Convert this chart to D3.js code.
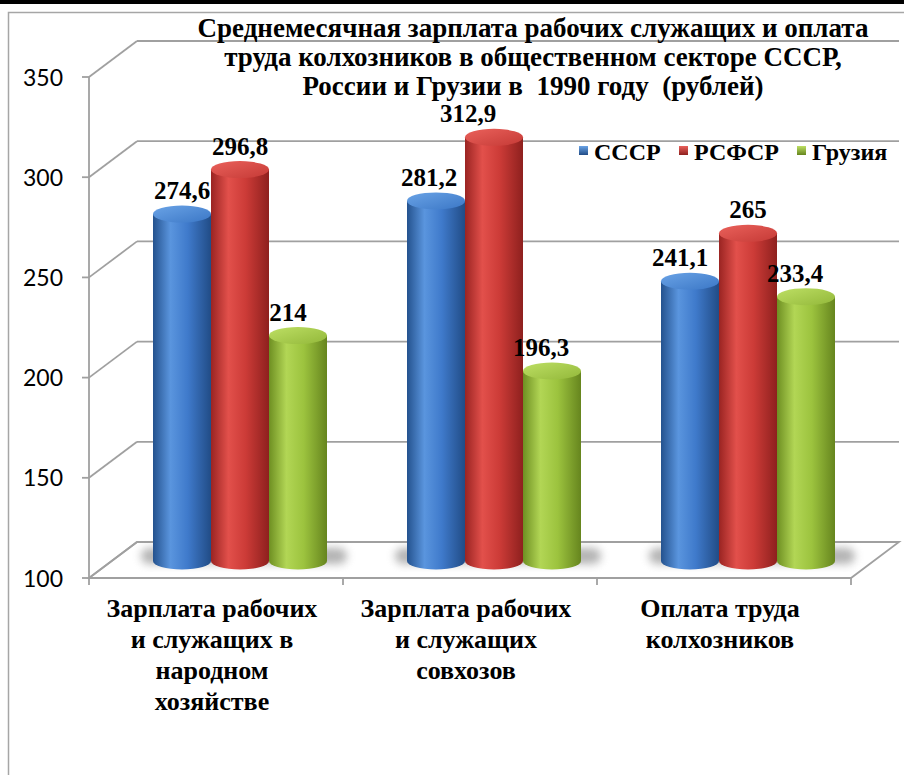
<!DOCTYPE html>
<html>
<head>
<meta charset="utf-8">
<script src="https://cdn.jsdelivr.net/npm/d3@7/dist/d3.min.js"></script>
<style>
  html, body { margin: 0; padding: 0; background: #fff; }
  svg { display: block; }
</style>
</head>
<body>
<svg id="chart" width="904" height="775"></svg>
<script>
// Chart data
const categories = ["nh", "sv", "kz"];
const categoryLines = [
  ["Зарплата рабочих", "и служащих в", "народном", "хозяйстве"],
  ["Зарплата рабочих", "и служащих", "совхозов"],
  ["Оплата труда", "колхозников"]
];
const seriesNames = ["СССР", "РСФСР", "Грузия"];
const valuesUSSR  = [274.6, 281.2, 241.1];
const valuesRSFSR = [296.8, 312.9, 265];
const valuesGeorgia = [214, 196.3, 233.4];
const seriesValues = [valuesUSSR, valuesRSFSR, valuesGeorgia];
const valueLabels = [
  ["274,6", "281,2", "241,1"],
  ["296,8", "312,9", "265"],
  ["214", "196,3", "233,4"]
];
const yTicks = [100, 150, 200, 250, 300, 350];
const titleLines = [
  "Среднемесячная зарплата рабочих служащих и оплата",
  "труда колхозников в общественном секторе СССР,",
  "России и Грузии в  1990 году  (рублей)"
];

// label placement tweaks (horizontal nudge, px) per series/category
const labelShiftX = [
  [0, -7, -10],
  [0, -26, 0],
  [-10, -11, -11]
];

const svg = d3.select("#chart");
const W = 904, H = 775;
const SERIF = '"Liberation Serif"';
const SANS = '"Lato"';

// 3D projection: depth offset of the back wall
const DX = 48, DY = -36;
const y = d3.scaleLinear().domain([100, 350]).range([578, 77]);
const x = d3.scaleBand().domain(categories).range([89, 851]);
const xs = d3.scaleBand().domain([0, 1, 2]).range([-87, 87]);

// palettes per series: [edgeDark, light, mid, edgeDark2, topLight, topDark]
const palettes = [
  ["#24528e", "#5a95de", "#3f7acb", "#214c86", "#6aa3e6", "#3b77c6"],
  ["#9a2422", "#e2504b", "#cc3b37", "#8e201e", "#ea615b", "#c53a36"],
  ["#6e8f22", "#b2d655", "#9cc33e", "#66851e", "#bddf64", "#93b83a"]
];

const defs = svg.append("defs");
palettes.forEach((p, i) => {
  const g = defs.append("linearGradient").attr("id", "body" + i)
    .attr("x1", "0").attr("x2", "1").attr("y1", "0").attr("y2", "0");
  g.append("stop").attr("offset", "0").attr("stop-color", p[0]);
  g.append("stop").attr("offset", "0.3").attr("stop-color", p[1]);
  g.append("stop").attr("offset", "0.6").attr("stop-color", p[2]);
  g.append("stop").attr("offset", "1").attr("stop-color", p[3]);
  const t = defs.append("linearGradient").attr("id", "top" + i)
    .attr("x1", "0").attr("x2", "1").attr("y1", "0").attr("y2", "1");
  t.append("stop").attr("offset", "0").attr("stop-color", p[4]);
  t.append("stop").attr("offset", "1").attr("stop-color", p[5]);
  const m = defs.append("linearGradient").attr("id", "mark" + i)
    .attr("x1", "0").attr("x2", "0").attr("y1", "0").attr("y2", "1");
  m.append("stop").attr("offset", "0").attr("stop-color", p[4]);
  m.append("stop").attr("offset", "1").attr("stop-color", p[3]);
});
defs.append("filter").attr("id", "soft")
  .attr("x", "-50%").attr("y", "-50%").attr("width", "200%").attr("height", "200%")
  .append("feGaussianBlur").attr("stdDeviation", 4.5);

// page border and chart frame
svg.append("rect").attr("x", 0).attr("y", 0).attr("width", W).attr("height", 4).attr("fill", "#000");
svg.append("path").attr("d", `M${W},12.5H8.5V${H}`)
  .attr("fill", "none").attr("stroke", "#a6a6a6").attr("stroke-width", 1.5);

const grid = svg.append("g").attr("stroke", "#a0a0a0").attr("stroke-width", 1.8).attr("fill", "none");
const x0 = 89, x1 = 851;

// back wall gridlines and side-wall diagonals
yTicks.forEach(t => {
  const yy = y(t);
  if (t > 100) {
    grid.append("line").attr("x1", x0 + DX).attr("x2", x1 + DX).attr("y1", yy + DY).attr("y2", yy + DY);
  }
  grid.append("line").attr("x1", x0).attr("x2", x0 + DX).attr("y1", yy).attr("y2", yy + DY);
  grid.append("line").attr("x1", x0 - 7).attr("x2", x0).attr("y1", yy).attr("y2", yy);
});
// floor outline
grid.append("path").attr("d",
  `M${x0},${y(100)}L${x1},${y(100)}L${x1 + DX},${y(100) + DY}L${x0 + DX},${y(100) + DY}Z`);
// front value axis
grid.append("line").attr("x1", x0).attr("x2", x0).attr("y1", y(350)).attr("y2", y(100));
// category ticks
[x0, ...categories.map(c => x(c) + x.bandwidth())].forEach(xx => {
  grid.append("line").attr("x1", xx).attr("x2", xx).attr("y1", y(100)).attr("y2", y(100) + 7);
});

// y tick labels
svg.append("g").selectAll("text").data(yTicks).join("text")
  .attr("x", 63).attr("y", d => y(d) + 8.5)
  .attr("text-anchor", "end")
  .style("font-family", SANS).style("font-size", "23px")
  .attr("fill", "#000")
  .text(d => d);

// bars as cylinders, placed at mid depth
const MX = DX / 2, TOPY = -14, BOTY = -17;
const RX = xs.bandwidth() / 2, RY = 8.5;
const bars = svg.append("g");
const center = c => x(c) + x.bandwidth() / 2 + MX;

// soft floor shadow under each group
categories.forEach(c => {
  const gx0 = center(c) + xs(0), gx1 = center(c) + xs(2) + xs.bandwidth();
  bars.append("rect")
    .attr("x", gx0 - 12).attr("y", y(100) - 30).attr("width", gx1 - gx0 + 32).attr("height", 16)
    .attr("rx", 8).attr("fill", "#8c8c8c").attr("opacity", 0.65).attr("filter", "url(#soft)");
});

const labels = svg.append("g");
categories.forEach((c, ci) => {
  seriesValues.forEach((vals, si) => {
    const v = vals[ci];
    const cx = center(c) + xs(si) + RX;
    const ty = y(v) + TOPY;
    const by = y(100) + BOTY;
    const g = bars.append("g");
    g.append("path")
      .attr("d", `M${cx - RX},${ty}L${cx - RX},${by}A${RX},${RY} 0 0 0 ${cx + RX},${by}L${cx + RX},${ty}Z`)
      .attr("fill", `url(#body${si})`);
    g.append("ellipse").attr("cx", cx).attr("cy", ty).attr("rx", RX).attr("ry", RY)
      .attr("fill", `url(#top${si})`);
    labels.append("text")
      .attr("x", cx + labelShiftX[si][ci]).attr("y", ty - 15)
      .attr("text-anchor", "middle")
      .style("font-family", SERIF).style("font-weight", "bold").style("font-size", "25px")
      .attr("fill", "#000")
      .text(valueLabels[si][ci]);
  });
});

// category labels
categories.forEach((c, ci) => {
  const t = svg.append("text")
    .attr("text-anchor", "middle")
    .style("font-family", SERIF).style("font-weight", "bold").style("font-size", "26px")
    .attr("fill", "#000");
  categoryLines[ci].forEach((ln, li) => {
    t.append("tspan").attr("x", x(c) + x.bandwidth() / 2 - 4).attr("y", 617 + li * 31).text(ln);
  });
});

// title
const title = svg.append("text")
  .attr("text-anchor", "middle")
  .style("font-family", SERIF).style("font-weight", "bold").style("font-size", "27px")
  .style("white-space", "pre")
  .attr("fill", "#000");
titleLines.forEach((ln, i) => {
  title.append("tspan").attr("x", 533).attr("y", 37 + i * 29).text(ln);
});

// legend
const legendX = [579, 679, 797];
const lg = svg.append("g");
seriesNames.forEach((n, i) => {
  lg.append("rect").attr("x", legendX[i]).attr("y", 146).attr("width", 9).attr("height", 9)
    .attr("fill", `url(#mark${i})`);
  lg.append("text").attr("x", legendX[i] + 15).attr("y", 160)
    .style("font-family", SERIF).style("font-weight", "bold").style("font-size", "24px")
    .attr("fill", "#000").text(n);
});
</script>
</body>
</html>
